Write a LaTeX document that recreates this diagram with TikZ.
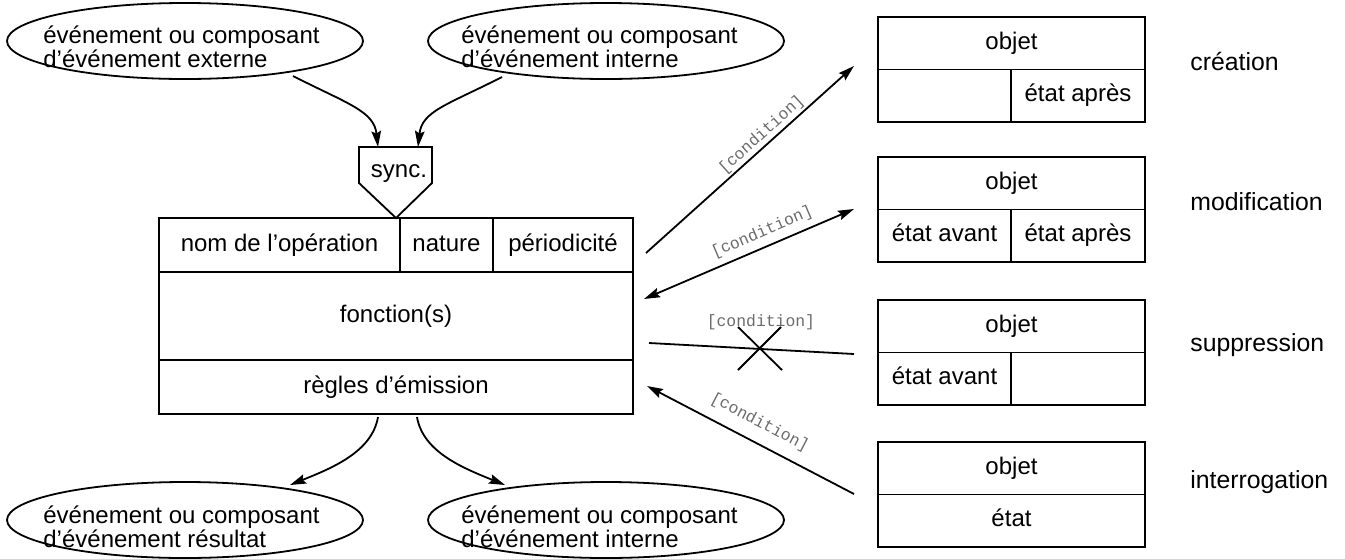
\documentclass[tikz,border=0pt]{standalone}
\usepackage{fontspec}
\setmainfont{Liberation Sans}
\newfontfamily\condfont{Liberation Mono}
\usetikzlibrary{arrows.meta,shapes.geometric}
\definecolor{condgray}{gray}{0.42}
\begin{document}
\begin{tikzpicture}[x=0.5pt,y=-0.5pt,
  every node/.style={font=\fontsize{12}{12}\selectfont},
  lw/.style={line width=0.9pt},
  cell/.style={draw,lw,rectangle,inner sep=0pt,anchor=center,text height=8.6pt,text depth=2.6pt},
  ev/.style={draw,lw,ellipse,minimum width=178pt,minimum height=38pt,inner sep=0pt},
  evtext/.style={anchor=base west,inner sep=0pt},
  arr/.style={lw,-{Stealth[length=8pt,width=4.8pt,inset=1.2pt]}},
  arrboth/.style={lw,{Stealth[length=8pt,width=4.8pt,inset=1.2pt]}-{Stealth[length=8pt,width=4.8pt,inset=1.2pt]}},
  cond/.style={font=\condfont\fontsize{8.2}{9}\selectfont,text=condgray,inner sep=1pt},
  oplabel/.style={anchor=west,inner sep=0pt,font=\fontsize{12.4}{12}\selectfont},
]
\useasboundingbox (0,0) rectangle (1345,558);

% --- event ellipses ---
\node[ev] (evext) at (185,41) {};
\node[evtext] (evexttxt) at (43,43) {\vtop{\baselineskip=12pt\lineskiplimit=-20pt\hbox{événement ou composant}\hbox{d’événement externe}}};
\node[ev] (evint) at (606,41) {};
\node[evtext] (evinttxt) at (461,43) {\vtop{\baselineskip=12pt\lineskiplimit=-20pt\hbox{événement ou composant}\hbox{d’événement interne}}};
\node[ev] (evres) at (185,520) {};
\node[evtext] (evrestxt) at (43,523) {\vtop{\baselineskip=12pt\lineskiplimit=-20pt\hbox{événement ou composant}\hbox{d’événement résultat}}};
\node[ev] (evint2) at (606,520) {};
\node[evtext] (evint2txt) at (461,523) {\vtop{\baselineskip=12pt\lineskiplimit=-20pt\hbox{événement ou composant}\hbox{d’événement interne}}};

% --- sync ---
\draw[lw] (359,147) -- (432,147) -- (432,183) -- (396,218) -- (359,183) -- cycle;
\node[inner sep=0pt] (sync) at (399,174) {sync.};
\coordinate (syncinA) at (378,147);
\coordinate (syncinB) at (418,147);

% --- operation box ---
\node[cell,minimum width=120.5pt,minimum height=27pt] (nom) at (279.5,245) {nom de l’opération};
\node[cell,minimum width=46.5pt,minimum height=27pt] (nature) at (446.5,245) {nature};
\node[cell,minimum width=70pt,minimum height=27pt] (period) at (563,245) {périodicité};
\node[cell,minimum width=237pt,minimum height=44pt] (fonction) at (396,316) {fonction(s)};
\node[cell,minimum width=237pt,minimum height=27pt] (regles) at (396,387) {règles d’émission};

% --- object boxes ---
\node[cell,minimum width=133.5pt,minimum height=26.25pt] (o1) at (1011.5,43.25) {objet};
\node[cell,minimum width=66.5pt,minimum height=26.25pt] (o1l) at (944.5,95.75) {};
\node[cell,minimum width=67pt,minimum height=26.25pt] (o1r) at (1078,95.75) {état après};

\node[cell,minimum width=133.5pt,minimum height=26.25pt] (o2) at (1011.5,183.25) {objet};
\node[cell,minimum width=66.5pt,minimum height=26.25pt] (o2l) at (944.5,235.75) {état avant};
\node[cell,minimum width=67pt,minimum height=26.25pt] (o2r) at (1078,235.75) {état après};

\node[cell,minimum width=133.5pt,minimum height=26.25pt] (o3) at (1011.5,326.25) {objet};
\node[cell,minimum width=66.5pt,minimum height=26.25pt] (o3l) at (944.5,378.75) {état avant};
\node[cell,minimum width=67pt,minimum height=26.25pt] (o3r) at (1078,378.75) {};

\node[cell,minimum width=133.5pt,minimum height=26.25pt] (o4) at (1011.5,468.25) {objet};
\node[cell,minimum width=133.5pt,minimum height=26.25pt] (o4b) at (1011.5,520.75) {état};

% --- operation labels ---
\node[oplabel] (lcre) at (1190,61) {création};
\node[oplabel] (lmod) at (1190,202) {modification};
\node[oplabel] (lsup) at (1190,345) {suppression};
\node[oplabel] (lint) at (1190,482) {interrogation};

% --- curved event arrows ---
\coordinate (cAs) at (293,76);
\coordinate (cBs) at (502,77);
\draw[arr] (cAs) .. controls (348,104) and (374,111) .. (syncinA);
\draw[arr] (cBs) .. controls (447,105) and (422,111) .. (syncinB);

\coordinate (dAs) at (378,417);
\coordinate (dAe) at (290,485);
\coordinate (dBs) at (417,417);
\coordinate (dBe) at (505,485);
\draw[arr] (dAs) .. controls (372,452) and (332,468) .. (dAe);
\draw[arr] (dBs) .. controls (423,452) and (463,468) .. (dBe);

% --- condition arrows ---
\coordinate (a1s) at (646,253);
\coordinate (a1e) at (854,66);
\draw[arr] (a1s) -- node[cond,sloped,above=0pt,pos=0.59] {[condition]} (a1e);

\coordinate (a2s) at (644,299);
\coordinate (a2e) at (854,209);
\draw[arrboth] (a2s) -- node[cond,sloped,above=2pt,pos=0.59] {[condition]} (a2e);

\coordinate (a3s) at (649,343);
\coordinate (a3e) at (854,354);
\draw[lw] (a3s) -- node[cond,above=8pt,pos=0.546] {[condition]} (a3e);
\draw[lw] (738,327) -- (782,370) (738,370) -- (781,327);

\coordinate (a4s) at (854,494);
\coordinate (a4e) at (647,386);
\draw[arr] (a4s) -- node[cond,sloped,above=4.5pt,pos=0.5] {[condition]} (a4e);
\end{tikzpicture}
\end{document}
